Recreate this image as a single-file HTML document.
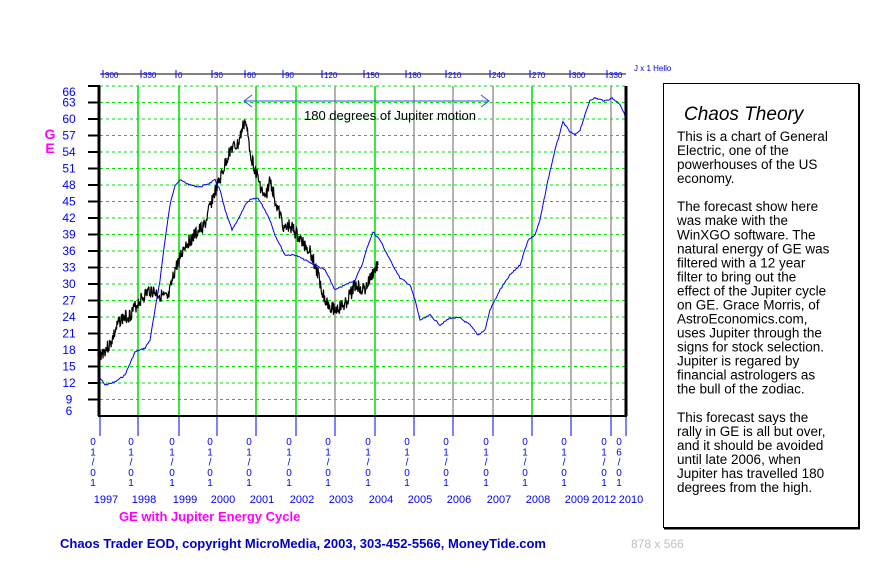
<!DOCTYPE html>
<html><head><meta charset="utf-8"><style>
body{margin:0;background:#fff;width:878px;height:566px;overflow:hidden;font-family:"Liberation Sans",sans-serif}
</style></head><body>
<svg id="s" width="878" height="566" xmlns="http://www.w3.org/2000/svg" font-family="Liberation Sans, sans-serif">
<g id="grid"></g>
<text x="634" y="71" font-size="8" fill="#0000ff">J x 1 Hello</text>
<line x1="100" y1="74" x2="626" y2="74" stroke="#000" stroke-width="1"/>
<g id="top" font-size="8" fill="#0000ff"></g>
<g id="ylab" font-size="12" fill="#0000ff" text-anchor="middle"></g>
<text x="50" y="139" font-size="14" font-weight="bold" fill="#ff00ff" text-anchor="middle">G</text>
<text x="50" y="153" font-size="14" font-weight="bold" fill="#ff00ff" text-anchor="middle">E</text>
<polyline id="blk" fill="none" stroke="#000" stroke-width="1.2"/>
<polyline id="blu" fill="none" stroke="#0000ff" stroke-width="1"/>
<line x1="99" y1="86" x2="99" y2="416" stroke="#000" stroke-width="3"/>
<line x1="626" y1="86" x2="626" y2="416" stroke="#000" stroke-width="3"/>
<line x1="98" y1="416" x2="627" y2="416" stroke="#000" stroke-width="2"/>
<line x1="244" y1="101" x2="489" y2="101" stroke="#3050e0" stroke-width="1"/>
<polyline points="252,95 244,101 252,107" fill="none" stroke="#3050e0"/>
<polyline points="481,95 489,101 481,107" fill="none" stroke="#3050e0"/>
<text x="304" y="120" font-size="13" fill="#000">180 degrees of Jupiter motion</text>
<g id="bot" font-size="11" fill="#0000ff" text-anchor="middle"></g>
<text x="119" y="521" font-size="13" font-weight="bold" fill="#ff00ff">GE with Jupiter Energy Cycle</text>
<text x="60" y="548" font-size="13" font-weight="bold" fill="#0000cc">Chaos Trader EOD, copyright MicroMedia, 2003, 303-452-5566, MoneyTide.com</text>
<text x="631" y="548" font-size="12" fill="#c0c0c0">878 x 566</text>
<rect x="663.5" y="83.5" width="195" height="444" fill="#fff" stroke="#000" stroke-width="1"/>
<line x1="859" y1="84" x2="859" y2="529" stroke="#000" stroke-width="2"/>
<line x1="664" y1="528.5" x2="860" y2="528.5" stroke="#000" stroke-width="2"/>
<text x="684" y="120" font-size="19" font-style="italic" fill="#000">Chaos Theory</text>
<g id="para" font-size="13" fill="#000"></g>
</svg>
<script>
var NS="http://www.w3.org/2000/svg";
function el(p,t,a,txt){var e=document.createElementNS(NS,t);for(var k in a)e.setAttribute(k,a[k]);if(txt!=null)e.textContent=txt;document.getElementById(p).appendChild(e);return e;}
function Y(v){return 86+(66-v)*5.5;}
for(var v=9;v<=66;v+=3){var y=Y(v);
 el("grid","line",{x1:100,y1:y,x2:626,y2:y,stroke:"#00dd00","stroke-dasharray":"3,3"});
 el("grid","line",{x1:88,y1:y,x2:100,y2:y,stroke:"#000","stroke-width":2});
 var ly=y+4; if(v==66)ly=96; el("ylab","text",{x:69,y:ly},v);}
el("ylab","text",{x:69,y:415},6);
var vx=[138,179,217,256,296,335,375,414,453,493,532,571,611];
var gr=[1,1,0,1,1,0,1,0,0,0,1,0,0];
for(var i=0;i<vx.length;i++){el("grid","line",{x1:vx[i],y1:86,x2:vx[i],y2:416,stroke:gr[i]?"#00dd00":"#999","stroke-width":1.5});}
var tl=[[103,300],[141,330],[176,0],[212,30],[245,60],[283,90],[322,120],[364,150],[406,180],[446,210],[490,240],[530,270],[570,300],[607,330]];
tl.forEach(function(t){el("top","line",{x1:t[0],y1:70,x2:t[0],y2:78,stroke:"#0000ff"});el("top","text",{x:t[0]+2,y:78},t[1]);});
var bx=[100,138,179,217,256,296,335,375,414,453,493,532,571,611,626];
var yrs=["1997","1998","1999","2000","2001","2002","2003","2004","2005","2006","2007","2008","2009","2012","2010"];
bx.forEach(function(x,i){el("grid","line",{x1:x,y1:416,x2:x,y2:436,stroke:"#0000ff"});
 var ch=i==14?["0","6","/","0","1"]:["0","1","/","0","1"];
 var cx=x-7;
 ch.forEach(function(c,j){el("bot","text",{x:cx,y:445+j*10.3,"font-size":10},c);});
 el("bot","text",{x:(i==14?x+5:(i==13?x-7:x+6)),y:503},yrs[i]);});
var blu=[[100,378],[105,385],[115,382],[125,375],[135,352],[145,348],[150,340],[155,310],[160,280],[165,240],[170,205],[175,185],[180,180],[190,185],[200,187],[210,183],[215,180],[220,190],[225,210],[232,230],[238,220],[245,205],[250,200],[258,198],[265,210],[270,220],[275,235],[280,245],[285,255],[295,255],[305,260],[315,265],[325,270],[335,290],[345,285],[355,280],[362,265],[368,245],[373,232],[380,240],[390,260],[400,278],[410,285],[415,300],[420,320],[425,318],[430,315],[440,325],[450,318],[460,318],[470,325],[478,335],[485,330],[490,310],[500,290],[510,275],[520,265],[528,240],[535,235],[540,220],[548,180],[555,150],[563,122],[570,132],[575,135],[580,130],[590,100],[595,98],[605,101],[612,98],[620,104],[626,118]];
function interp(pts,step,jit,seed){var out=[],s=seed;function r(){s=(s*9301+49297)%233280;return s/233280-0.5;}
 for(var i=0;i<pts.length-1;i++){var a=pts[i],b=pts[i+1];for(var x=a[0];x<b[0];x+=step){var t=(x-a[0])/(b[0]-a[0]);out.push(x.toFixed(1)+","+(a[1]+t*(b[1]-a[1])+r()*jit).toFixed(1));}}
 var l=pts[pts.length-1];out.push(l[0]+","+l[1]);return out.join(" ");}
document.getElementById("blu").setAttribute("points",interp(blu,1,1.5,7));
var blk=[[100,355],[110,345],[120,320],[130,315],[140,300],[150,290],[160,295],[168,300],[175,270],[185,245],[195,235],[205,225],[212,200],[220,180],[230,150],[238,145],[245,120],[252,160],[260,185],[265,200],[270,180],[278,210],[285,230],[290,225],[300,240],[310,250],[318,275],[325,300],[335,310],[345,305],[355,285],[365,290],[372,275],[378,265]];
document.getElementById("blk").setAttribute("points",interp(blk,0.5,14,3));
var lines=["This is a chart of General","Electric, one of the","powerhouses of the US","economy.","","The forecast show here","was make with the","WinXGO software. The","natural energy of GE was","filtered with a 12 year","filter to bring out the","effect of the Jupiter cycle","on GE. Grace Morris, of","AstroEconomics.com,","uses Jupiter through the","signs for stock selection.","Jupiter is regared by","financial astrologers as","the bull of the zodiac.","","This forecast says the","rally in GE is all but over,","and it should be avoided","until late 2006, when","Jupiter has travelled 180","degrees from the high."];
lines.forEach(function(t,i){if(t)el("para","text",{x:677,y:141+i*14.04,"font-size":13.5},t);});
</script>
</body></html>
